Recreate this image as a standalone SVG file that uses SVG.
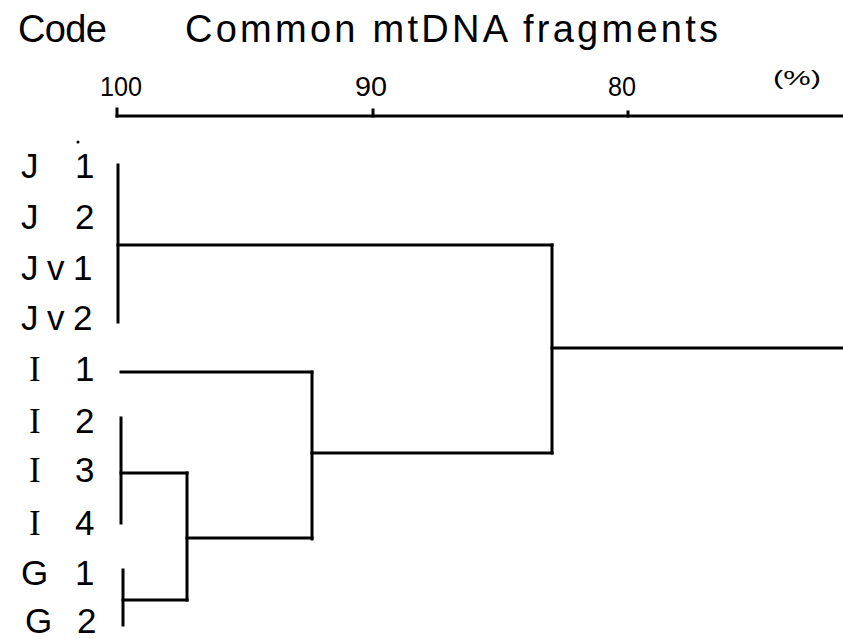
<svg xmlns="http://www.w3.org/2000/svg" width="843" height="639" viewBox="0 0 843 639">
  <style>
    .title { font-family: "Liberation Sans", Arial, sans-serif; font-size: 38px; fill: #000; }
    .tick { font-family: "Liberation Sans", Arial, sans-serif; font-size: 28px; fill: #000; }
    .unit { font-family: "Liberation Sans", Arial, sans-serif; font-size: 21px; fill: #000; }
    .lab { font-family: "Liberation Sans", Arial, sans-serif; font-size: 35px; fill: #000; }
    .serif { font-family: "Liberation Serif", "Times New Roman", serif; }
    .ln { stroke: #000; stroke-width: 3; fill: none; stroke-linecap: square; }
  </style>
  <rect width="843" height="639" fill="#fff"/>

  <g id="header">
    <text class="title" x="18" y="42" textLength="89" lengthAdjust="spacing">Code</text>
    <text class="title" x="185" y="42" textLength="533" lengthAdjust="spacing">Common mtDNA fragments</text>
  </g>

  <g id="axis">
    <line class="ln" x1="117" y1="116" x2="843" y2="116" stroke-width="2.5"/>
    <line class="ln" x1="117" y1="109" x2="117" y2="116" stroke-width="2.5"/>
    <line class="ln" x1="373" y1="110" x2="373" y2="116" stroke-width="2.5"/>
    <line class="ln" x1="628" y1="112" x2="628" y2="116" stroke-width="2.5"/>
    <text class="tick" x="100" y="96" textLength="42" lengthAdjust="spacingAndGlyphs">100</text>
    <text class="tick" x="355" y="96" textLength="32" lengthAdjust="spacingAndGlyphs">90</text>
    <text class="tick" x="608" y="96" textLength="28" lengthAdjust="spacingAndGlyphs">80</text>
    <text class="unit" x="773" y="85" textLength="48" lengthAdjust="spacingAndGlyphs">(%)</text>
  </g>

  <g id="J1"><text class="lab" x="21" y="178">J</text><text class="lab" x="75" y="178">1</text></g>
  <circle cx="78" cy="142" r="1.5" fill="#000"/>
  <g id="J2"><text class="lab" x="21" y="229">J</text><text class="lab" x="75" y="229">2</text></g>
  <g id="Jv1"><text class="lab" x="21" y="280">J</text><text class="lab" x="47" y="280">v</text><text class="lab" x="73" y="280">1</text></g>
  <g id="Jv2"><text class="lab" x="21" y="330">J</text><text class="lab" x="47" y="330">v</text><text class="lab" x="73" y="330">2</text></g>
  <g id="I1"><text class="lab serif" x="29" y="381">I</text><text class="lab" x="75" y="381">1</text></g>
  <g id="I2"><text class="lab serif" x="29" y="433">I</text><text class="lab" x="75" y="433">2</text></g>
  <g id="I3"><text class="lab serif" x="29" y="482">I</text><text class="lab" x="75" y="482">3</text></g>
  <g id="I4"><text class="lab serif" x="29" y="535">I</text><text class="lab" x="75" y="535">4</text></g>
  <g id="G1"><text class="lab" x="21" y="585">G</text><text class="lab" x="75" y="585">1</text></g>
  <g id="G2"><text class="lab" x="25" y="633">G</text><text class="lab" x="77" y="633">2</text></g>

  <g id="connectors">
    <line class="ln" x1="118" y1="165" x2="118" y2="322"/>
    <line class="ln" x1="118" y1="245" x2="552" y2="245"/>
    <line class="ln" x1="552" y1="245" x2="552" y2="453"/>
    <line class="ln" x1="552" y1="348" x2="843" y2="348"/>
    <line class="ln" x1="121" y1="372" x2="312" y2="372"/>
    <line class="ln" x1="312" y1="372" x2="312" y2="539"/>
    <line class="ln" x1="312" y1="453" x2="552" y2="453"/>
    <line class="ln" x1="121" y1="418" x2="121" y2="523"/>
    <line class="ln" x1="121" y1="473" x2="187" y2="473"/>
    <line class="ln" x1="187" y1="473" x2="187" y2="600"/>
    <line class="ln" x1="187" y1="538" x2="312" y2="538"/>
    <line class="ln" x1="123" y1="570" x2="123" y2="625"/>
    <line class="ln" x1="123" y1="600" x2="187" y2="600"/>
  </g>
</svg>
